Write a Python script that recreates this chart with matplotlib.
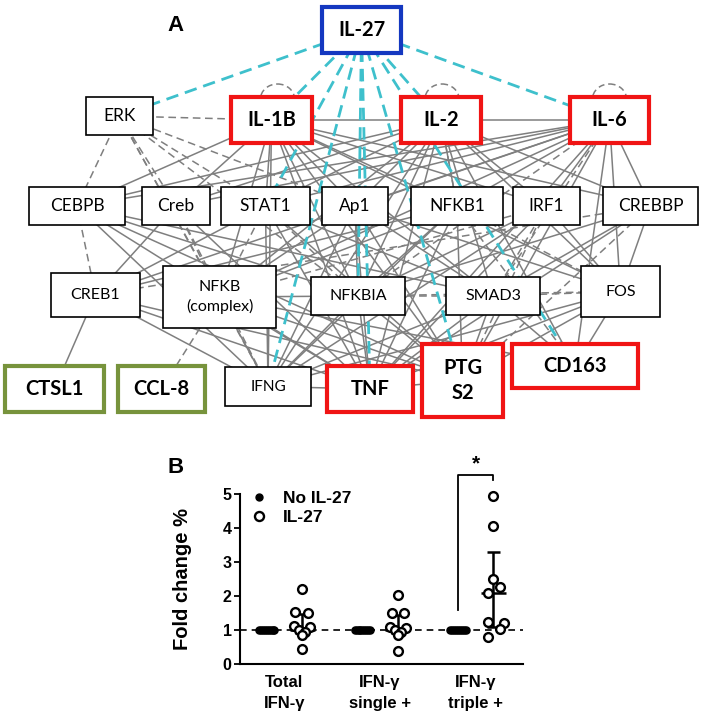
import matplotlib
matplotlib.use('Agg')
import matplotlib.pyplot as plt
from matplotlib.patches import Rectangle, Ellipse
from matplotlib.lines import Line2D

# ---- panel A: network ----
node_ids = ['IL-27', 'ERK', 'IL-1B', 'IL-2', 'IL-6',
            'CEBPB', 'Creb', 'STAT1', 'Ap1', 'NFKB1', 'IRF1', 'CREBBP',
            'CREB1', 'NFKB', 'NFKBIA', 'SMAD3', 'FOS',
            'CTSL1', 'CCL-8', 'IFNG', 'TNF', 'PTGS2', 'CD163']
node_labels = {'NFKB': 'NFKB\n(complex)', 'PTGS2': 'PTG\nS2'}
node_kind = {'IL-27': 'blue', 'IL-1B': 'red', 'IL-2': 'red', 'IL-6': 'red',
             'TNF': 'red', 'PTGS2': 'red', 'CD163': 'red',
             'CTSL1': 'green', 'CCL-8': 'green'}

solid_edges = [
    ('IL-1B', 'IL-2'), ('IL-2', 'IL-6'),
    ('IL-1B', 'CEBPB'), ('IL-1B', 'Creb'), ('IL-1B', 'STAT1'), ('IL-1B', 'Ap1'),
    ('IL-1B', 'NFKB1'), ('IL-1B', 'IRF1'), ('IL-1B', 'CREBBP'), ('IL-1B', 'NFKB'),
    ('IL-1B', 'NFKBIA'), ('IL-1B', 'SMAD3'), ('IL-1B', 'FOS'), ('IL-1B', 'IFNG'),
    ('IL-1B', 'TNF'), ('IL-1B', 'PTGS2'),
    ('IL-2', 'CEBPB'), ('IL-2', 'Creb'), ('IL-2', 'STAT1'), ('IL-2', 'Ap1'),
    ('IL-2', 'NFKB1'), ('IL-2', 'IRF1'), ('IL-2', 'CREBBP'), ('IL-2', 'NFKBIA'),
    ('IL-2', 'SMAD3'), ('IL-2', 'FOS'), ('IL-2', 'IFNG'), ('IL-2', 'TNF'),
    ('IL-2', 'CD163'), ('IL-2', 'NFKB'),
    ('IL-6', 'CEBPB'), ('IL-6', 'Creb'), ('IL-6', 'STAT1'), ('IL-6', 'Ap1'),
    ('IL-6', 'NFKB1'), ('IL-6', 'IRF1'), ('IL-6', 'CREBBP'), ('IL-6', 'NFKB'),
    ('IL-6', 'FOS'), ('IL-6', 'TNF'), ('IL-6', 'PTGS2'), ('IL-6', 'CD163'),
    ('IL-6', 'CREB1'),
    ('CEBPB', 'NFKBIA'), ('CEBPB', 'TNF'), ('CEBPB', 'IFNG'), ('CEBPB', 'SMAD3'),
    ('CEBPB', 'PTGS2'),
    ('Creb', 'CREB1'), ('Creb', 'TNF'),
    ('STAT1', 'IFNG'), ('STAT1', 'TNF'), ('STAT1', 'SMAD3'), ('STAT1', 'CREB1'),
    ('STAT1', 'PTGS2'),
    ('Ap1', 'TNF'), ('Ap1', 'IFNG'), ('Ap1', 'SMAD3'), ('Ap1', 'PTGS2'),
    ('Ap1', 'NFKB'), ('Ap1', 'FOS'), ('Ap1', 'NFKBIA'),
    ('NFKB1', 'NFKB'), ('NFKB1', 'NFKBIA'), ('NFKB1', 'TNF'), ('NFKB1', 'IFNG'),
    ('NFKB1', 'PTGS2'), ('NFKB1', 'CREB1'),
    ('IRF1', 'IFNG'), ('IRF1', 'TNF'), ('IRF1', 'NFKBIA'), ('IRF1', 'FOS'),
    ('CREBBP', 'FOS'), ('CREBBP', 'SMAD3'), ('CREBBP', 'NFKBIA'), ('CREBBP', 'TNF'),
    ('CREB1', 'CTSL1'), ('CREB1', 'IFNG'), ('CREB1', 'TNF'), ('CREB1', 'PTGS2'),
    ('NFKB', 'IFNG'), ('NFKB', 'TNF'), ('NFKB', 'PTGS2'), ('NFKB', 'CD163'),
    ('NFKB', 'NFKBIA'),
    ('NFKBIA', 'TNF'), ('NFKBIA', 'IFNG'), ('NFKBIA', 'PTGS2'),
    ('SMAD3', 'TNF'), ('SMAD3', 'IFNG'), ('SMAD3', 'PTGS2'), ('SMAD3', 'CD163'),
    ('FOS', 'TNF'), ('FOS', 'IFNG'), ('FOS', 'PTGS2'), ('FOS', 'CD163'),
    ('IFNG', 'TNF'), ('TNF', 'PTGS2'),
]
dashed_edges = [
    ('ERK', 'IL-1B'), ('ERK', 'CEBPB'), ('ERK', 'Creb'), ('ERK', 'STAT1'),
    ('ERK', 'NFKB'), ('ERK', 'Ap1'), ('ERK', 'NFKBIA'), ('ERK', 'IFNG'),
    ('IL-6', 'SMAD3'), ('IL-6', 'NFKBIA'), ('IL-2', 'NFKB1'),
    ('CEBPB', 'CREB1'), ('Creb', 'NFKB'), ('Creb', 'IFNG'),
    ('STAT1', 'NFKBIA'), ('STAT1', 'NFKB'), ('NFKB1', 'CD163'), ('NFKB1', 'FOS'),
    ('IRF1', 'PTGS2'), ('IRF1', 'SMAD3'), ('IRF1', 'NFKB'),
    ('CREBBP', 'CREB1'), ('CREBBP', 'PTGS2'),
    ('NFKB', 'CCL-8'), ('NFKBIA', 'FOS'), ('NFKBIA', 'SMAD3'), ('FOS', 'SMAD3'),
]
il27_targets = ['ERK', 'IL-1B', 'IL-2', 'IL-6', 'IFNG', 'TNF', 'PTGS2', 'CD163',
                'STAT1', 'NFKBIA']
self_loops = ['IL-1B', 'IL-2', 'IL-6']

# ---- panel B: fold change ----
groups = ['Total\nIFN-γ', 'IFN-γ\nsingle +', 'IFN-γ\ntriple +']
no_il27 = [
    [1.0, 1.0, 1.0, 1.0, 1.0, 1.0, 1.0, 1.0, 1.0],
    [1.0, 1.0, 1.0, 1.0, 1.0, 1.0, 1.0, 1.0, 1.0],
    [1.0, 1.0, 1.0, 1.0, 1.0, 1.0, 1.0, 1.0, 1.0],
]
il27 = [
    [2.22, 1.52, 1.51, 1.12, 1.10, 1.00, 0.95, 0.85, 0.43],
    [2.03, 1.51, 1.50, 1.08, 1.07, 1.00, 0.93, 0.84, 0.39],
    [4.94, 4.07, 2.49, 2.27, 2.10, 1.24, 1.20, 1.02, 0.80],
]
il27_center = [1.0, 1.0, 2.1]
il27_upper = [1.47, 1.45, 3.3]
il27_lower = [0.9, 0.9, 1.1]

# layout (pixel boxes x0, y0, x1, y1)
boxes = {
    'IL-27': (322, 7, 401, 53), 'ERK': (86, 97, 153, 135),
    'IL-1B': (231, 97, 312, 143), 'IL-2': (401, 97, 481, 143), 'IL-6': (570, 97, 649, 143),
    'CEBPB': (29, 187, 125, 225), 'Creb': (142, 187, 210, 225), 'STAT1': (221, 187, 310, 225),
    'Ap1': (322, 187, 388, 225), 'NFKB1': (411, 187, 503, 225), 'IRF1': (513, 187, 580, 225),
    'CREBBP': (603, 187, 698, 225),
    'CREB1': (51, 273, 140, 317), 'NFKB': (163, 266, 276, 328), 'NFKBIA': (311, 277, 405, 315),
    'SMAD3': (446, 277, 540, 315), 'FOS': (581, 266, 660, 317),
    'CTSL1': (5, 366, 104, 412), 'CCL-8': (118, 366, 205, 412), 'IFNG': (225, 367, 311, 406),
    'TNF': (327, 366, 413, 412), 'PTGS2': (422, 344, 503, 417), 'CD163': (512, 344, 638, 388),
}
loop_dx = {'IL-1B': 6, 'IL-2': 1, 'IL-6': 0}
kind_style = {
    'plain': ('black', 1.2, 'normal', 12.5),
    'red': ('#f01414', 3.0, 'bold', 14.5),
    'blue': ('#1438c0', 3.0, 'bold', 14.5),
    'green': ('#77933c', 3.0, 'bold', 14.5),
}
small_nodes = {'CREB1': 11.5, 'NFKB': 11.5, 'NFKBIA': 11.5, 'SMAD3': 11.5, 'FOS': 11.5, 'IFNG': 11}
gray = '#7f7f7f'
cyan = '#3ec0cc'

fig = plt.figure(figsize=(7.06, 7.25), dpi=100)
ax = fig.add_axes([0, 0, 1, 1])
ax.set_xlim(0, 706)
ax.set_ylim(725, 0)
ax.axis('off')


def center(n):
    x0, y0, x1, y1 = boxes[n]
    return (x0 + x1) / 2, (y0 + y1) / 2


for a, b in solid_edges:
    (xa, ya), (xb, yb) = center(a), center(b)
    ax.plot([xa, xb], [ya, yb], color=gray, lw=1.1, zorder=1)
for a, b in dashed_edges:
    (xa, ya), (xb, yb) = center(a), center(b)
    ax.plot([xa, xb], [ya, yb], color=gray, lw=1.1, ls=(0, (5, 3)), zorder=1)
for t in il27_targets:
    (xa, ya), (xb, yb) = center('IL-27'), center(t)
    ax.plot([xa, xb], [ya, yb], color=cyan, lw=2.0, ls=(0, (4.5, 2.5)), zorder=2)
for n in self_loops:
    x0, y0, x1, y1 = boxes[n]
    cx = (x0 + x1) / 2 + loop_dx[n]
    ax.add_patch(Ellipse((cx, y0 + 2), 34, 30, fill=False, ec=gray, lw=1.1,
                         ls=(0, (4, 2.5)), zorder=1))

for n in node_ids:
    x0, y0, x1, y1 = boxes[n]
    ec, lw, fw, fs = kind_style[node_kind.get(n, 'plain')]
    fs = small_nodes.get(n, fs)
    ax.add_patch(Rectangle((x0, y0), x1 - x0, y1 - y0, fc='white', ec=ec, lw=lw, zorder=3))
    ax.text((x0 + x1) / 2, (y0 + y1) / 2, node_labels.get(n, n), ha='center', va='center',
            family='Lato', fontweight=fw, fontsize=fs, zorder=4, linespacing=1.35)

ax.text(176, 25, 'A', ha='center', va='center', family='Liberation Sans',
        fontweight='bold', fontsize=16)
ax.text(176, 467, 'B', ha='center', va='center', family='Liberation Sans',
        fontweight='bold', fontsize=16)

# ---- panel B ----
ctrl_jitter = [-0.08, -0.06, -0.04, -0.02, 0, 0.02, 0.04, 0.06, 0.08]
il27_jitter = [
    [0, -0.075, 0.065, -0.085, 0.085, -0.03, 0.03, 0, 0],
    [0, -0.065, 0.065, -0.085, 0.085, -0.03, 0.03, 0, 0],
    [0, 0, 0, 0.065, -0.055, -0.055, 0.115, 0.065, -0.055],
]
pair_off = 0.37

bx = fig.add_axes([240 / 706, 1 - 664 / 725, 283 / 706, 170 / 725])
bfont = dict(family='Liberation Sans', fontweight='bold')
bx.axhline(1, color='black', lw=1.2, ls=(0, (4, 3)), zorder=1)
for i in range(len(groups)):
    bx.scatter([i + j for j in ctrl_jitter], no_il27[i], s=26, color='black',
               zorder=3, clip_on=False)
    bx.scatter([i + pair_off + j for j in il27_jitter[i]], il27[i], s=40,
               facecolor='white', edgecolor='black', linewidth=1.7, zorder=3, clip_on=False)
    xc = i + pair_off
    bx.vlines(xc, il27_lower[i], il27_upper[i], color='black', lw=1.8, zorder=2)
    bx.hlines([il27_upper[i], il27_lower[i]], xc - 0.07, xc + 0.07, color='black', lw=1.8, zorder=2)
    bx.hlines(il27_center[i], xc - 0.13, xc + 0.13, color='black', lw=1.8, zorder=2)

bx.plot([2, 2, 2 + pair_off, 2 + pair_off], [1.59, 5.56, 5.56, 5.41], color='black',
        lw=1.3, clip_on=False)
bx.text(2 + pair_off / 2, 5.62, '*', ha='center', va='bottom', fontsize=15, **bfont)

bx.set_xlim(-0.28, 2.68)
bx.set_ylim(0, 5)
bx.set_yticks([0, 1, 2, 3, 4, 5])
bx.set_xticks([i + pair_off / 2 for i in range(len(groups))])
bx.set_xticklabels(groups, fontsize=12, linespacing=1.45, **bfont)
for lab in bx.get_yticklabels():
    lab.set_fontsize(11.5)
    lab.set_fontweight('bold')
    lab.set_family('Liberation Sans')
bx.tick_params(axis='x', length=0, pad=8)
bx.tick_params(axis='y', length=4, width=1.3, pad=2)
for s in ['top', 'right']:
    bx.spines[s].set_visible(False)
for s in ['left', 'bottom']:
    bx.spines[s].set_linewidth(1.5)
bx.set_ylabel('Fold change %', fontsize=14.5, labelpad=22, **bfont)

handles = [
    Line2D([], [], ls='none', marker='o', ms=5, color='black', label='No IL-27'),
    Line2D([], [], ls='none', marker='o', ms=6.5, mfc='white', mec='black', mew=1.7, label='IL-27'),
]
bx.legend(handles=handles, loc='upper left', bbox_to_anchor=(-0.05, 1.11), frameon=False,
          handletextpad=0.4, labelspacing=0.2, prop=dict(family='Liberation Sans',
                                                         weight='bold', size=12.5))

fig.savefig('out.png', dpi=100)
